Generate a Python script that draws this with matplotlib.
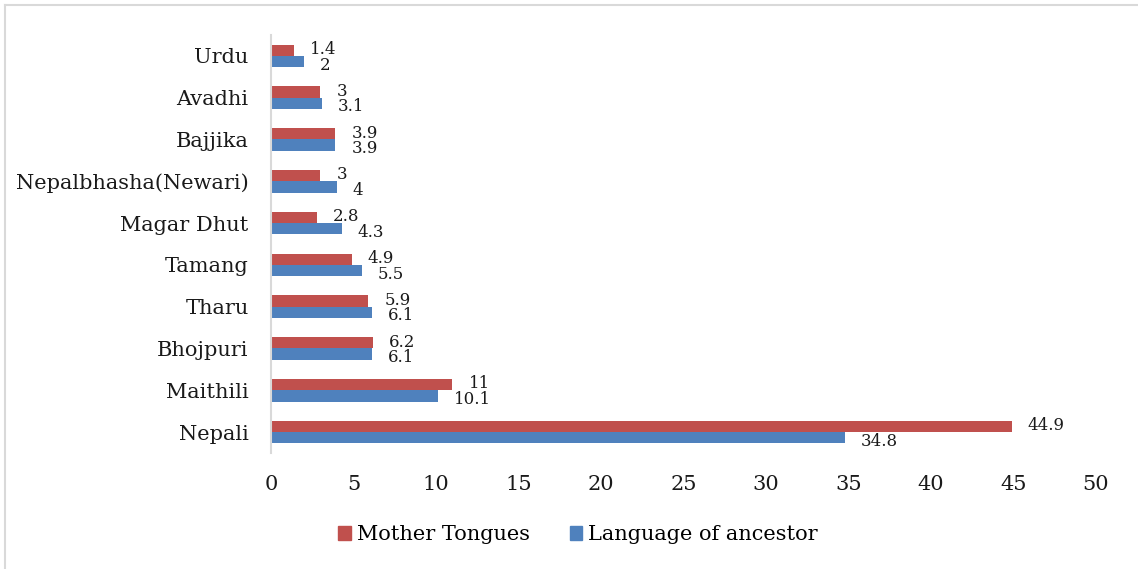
import matplotlib
matplotlib.use("Agg")
import matplotlib.pyplot as plt
from matplotlib.lines import Line2D
from matplotlib.patches import Patch
import numpy as np

categories = ["Nepali", "Maithili", "Bhojpuri", "Tharu", "Tamang", "Magar Dhut",
              "Nepalbhasha(Newari)", "Bajjika", "Avadhi", "Urdu"]
mother_tongues = [44.9, 11, 6.2, 5.9, 4.9, 2.8, 3, 3.9, 3, 1.4]
ancestor_lang = [34.8, 10.1, 6.1, 6.1, 5.5, 4.3, 4, 3.9, 3.1, 2]
xticks = [0, 5, 10, 15, 20, 25, 30, 35, 40, 45, 50]

RED = "#C0504D"
BLUE = "#4F81BD"
FONT = "DejaVu Serif"
plt.rcParams["font.family"] = FONT

fig = plt.figure(figsize=(11.38, 5.69), dpi=100)
ax = fig.add_axes([0.2381, 0.2039, 0.7250, 0.7346])

y = np.arange(len(categories))
h = 0.27
ax.barh(y + h / 2, mother_tongues, height=h, color=RED, label="Mother Tongues")
ax.barh(y - h / 2, ancestor_lang, height=h, color=BLUE, label="Language of ancestor")

for yi, v in zip(y, mother_tongues):
    ax.annotate(f"{v:g}", (v, yi + h / 2), xytext=(11.5, 0.5), textcoords="offset points",
                va="center", ha="left", fontsize=12, color="#1a1a1a")
for yi, v in zip(y, ancestor_lang):
    ax.annotate(f"{v:g}", (v, yi - h / 2), xytext=(11.5, -2.5), textcoords="offset points",
                va="center", ha="left", fontsize=12, color="#1a1a1a")

ax.set_xlim(0, 50)
ax.set_ylim(-0.5, len(categories) - 0.5)
ax.set_xticks(xticks)
ax.set_xticklabels([str(t) for t in xticks])
ax.set_yticks(y)
ax.set_yticklabels(categories)
ax.tick_params(axis="both", length=0, labelsize=15, colors="#1a1a1a")
ax.tick_params(axis="x", pad=16)
ax.tick_params(axis="y", pad=16)
for s in ["top", "right", "bottom"]:
    ax.spines[s].set_visible(False)
ax.spines["left"].set_color("#d9d9d9")
ax.spines["left"].set_linewidth(1.5)

handles = [Patch(color=RED, label="Mother Tongues"), Patch(color=BLUE, label="Language of ancestor")]
fig.legend(handles=handles, loc="center", bbox_to_anchor=(0.508, 0.06), ncol=2, frameon=False,
           fontsize=15, handlelength=0.6, handleheight=0.6, handletextpad=0.3, columnspacing=1.9)

# figure border (top and left visible)
fig.add_artist(Line2D([5 / 1138, 1.0], [1 - 5 / 569, 1 - 5 / 569], transform=fig.transFigure,
                      color="#d9d9d9", lw=1.5))
fig.add_artist(Line2D([5 / 1138, 5 / 1138], [0, 1 - 5 / 569], transform=fig.transFigure,
                      color="#d9d9d9", lw=1.5))

fig.savefig("out.png", dpi=100)
